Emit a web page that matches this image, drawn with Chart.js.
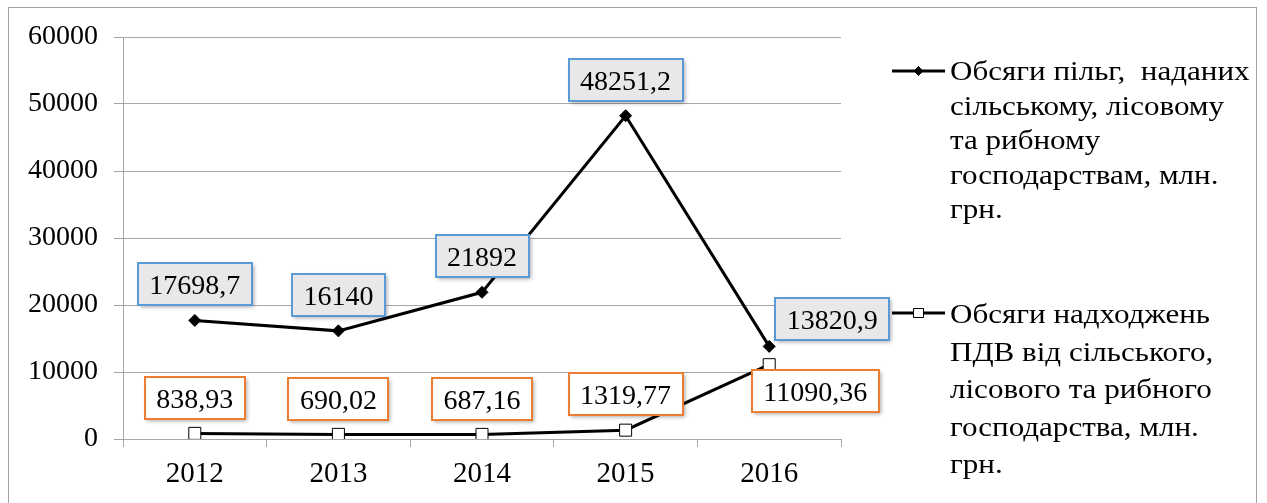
<!DOCTYPE html>
<html><head><meta charset="utf-8">
<script src="https://cdn.jsdelivr.net/npm/chart.js@4/dist/chart.umd.min.js"></script>
<style>
html,body{margin:0;padding:0;background:#fff;}
#wrap{position:relative;width:1267px;height:503px;overflow:hidden;}
#frame{position:absolute;left:8px;top:7px;width:1249px;height:520px;border:1px solid #a0a0a0;box-sizing:border-box;}
canvas{position:absolute;left:0;top:0;}
</style></head><body>
<div id="wrap"><div id="frame"></div><canvas id="c" width="1267" height="503"></canvas></div>
<script>
const years = ['2012', '2013', '2014', '2015', '2016'];
const benefits = [17698.7, 16140, 21892, 48251.2, 13820.9];
const vatRevenue = [838.93, 690.02, 687.16, 1319.77, 11090.36];
const yTickValues = [0, 10000, 20000, 30000, 40000, 50000, 60000];
const legendBenefits = ['Обсяги пільг,  наданих', 'сільському, лісовому', 'та рибному', 'господарствам, млн.', 'грн.'];
const legendVat = ['Обсяги надходжень', 'ПДВ від сільського,', 'лісового та рибного', 'господарства, млн.', 'грн.'];

const SERIF = '"Liberation Serif", "Times New Roman", serif';
const fmt = v => String(v).replace('.', ',');

const labelPlugin = {
  id: 'boxLabels',
  afterDatasetsDraw(chart) {
    const ctx = chart.ctx;
    const styles = [
      {fill: '#e8e8e8', stroke: '#5b9bd5', offsets: [[0,-36],[0,-36],[0,-36],[0,-36],[63,-27]]},
      {fill: '#ffffff', stroke: '#ed7d31', offsets: [[0,-35],[0,-35],[0,-35],[0,-36],[46,26]]}
    ];
    ctx.save();
    ctx.font = '28px ' + SERIF;
    chart.data.datasets.forEach((ds, i) => {
      const meta = chart.getDatasetMeta(i);
      const st = styles[i];
      meta.data.forEach((el, j) => {
        const txt = fmt(ds.data[j]);
        const cx = el.x + st.offsets[j][0];
        const cy = el.y + st.offsets[j][1];
        const w = ctx.measureText(txt).width + 23;
        const h = 42;
        const x0 = Math.round(cx - w / 2), y0 = Math.round(cy - h / 2);
        ctx.save();
        ctx.shadowColor = 'rgba(0,0,0,0.35)';
        ctx.shadowBlur = 4;
        ctx.shadowOffsetX = 2;
        ctx.shadowOffsetY = 2;
        ctx.fillStyle = st.fill;
        ctx.fillRect(x0, y0, w, h);
        ctx.restore();
        ctx.lineWidth = 2;
        ctx.strokeStyle = st.stroke;
        ctx.strokeRect(x0, y0, w, h);
        ctx.fillStyle = '#000';
        ctx.textAlign = 'center';
        ctx.textBaseline = 'alphabetic';
        ctx.fillText(txt, cx, cy + 10);
      });
    });
    ctx.restore();
  }
};

const legendPlugin = {
  id: 'sideLegend',
  afterDraw(chart) {
    const ctx = chart.ctx;
    const blocks = [
      {lines: legendBenefits, markerY: 71, base: 80, step: 34.5, ds: 0},
      {lines: legendVat, markerY: 313, base: 323, step: 37.5, ds: 1}
    ];
    ctx.save();
    blocks.forEach(b => {
      const ds = chart.data.datasets[b.ds];
      ctx.strokeStyle = '#000';
      ctx.lineWidth = 3;
      ctx.beginPath();
      ctx.moveTo(892, b.markerY);
      ctx.lineTo(945, b.markerY);
      ctx.stroke();
      ctx.fillStyle = ds.pointBackgroundColor;
      ctx.strokeStyle = ds.pointBorderColor;
      ctx.lineWidth = 1;
      ctx.beginPath();
      if (b.ds === 0) {
        ctx.moveTo(918.5, b.markerY - 4.5); ctx.lineTo(923, b.markerY);
        ctx.lineTo(918.5, b.markerY + 4.5); ctx.lineTo(914, b.markerY); ctx.closePath();
      } else {
        ctx.rect(913.5, b.markerY - 4.5, 10, 9);
      }
      ctx.fill(); ctx.stroke();
      ctx.fillStyle = '#000';
      ctx.font = '27px ' + SERIF;
      ctx.textAlign = 'left';
      ctx.textBaseline = 'alphabetic';
      b.lines.forEach((t, k) => {
        ctx.save();
        ctx.translate(950, b.base + k * b.step);
        ctx.scale(1.15, 1);
        ctx.fillText(t, 0, 0);
        ctx.restore();
      });
    });
    ctx.restore();
  }
};

new Chart(document.getElementById('c'), {
  type: 'line',
  data: {
    labels: years,
    datasets: [
      {
        label: legendBenefits.join(' '),
        data: benefits,
        borderColor: '#000',
        borderWidth: 3,
        pointStyle: 'rectRot',
        pointRadius: 6,
        pointBackgroundColor: '#000',
        pointBorderColor: '#000',
        pointBorderWidth: 1,
        tension: 0
      },
      {
        label: legendVat.join(' '),
        data: vatRevenue,
        borderColor: '#000',
        borderWidth: 3,
        pointStyle: 'rect',
        pointRadius: 8.5,
        pointBackgroundColor: '#fff',
        pointBorderColor: '#000',
        pointBorderWidth: 1,
        tension: 0
      }
    ]
  },
  options: {
    responsive: false,
    animation: false,
    layout: {padding: {left: 0, top: 37, right: 426, bottom: 0}},
    plugins: {legend: {display: false}, tooltip: {enabled: false}},
    scales: {
      x: {
        type: 'category',
        offset: true,
        grid: {offset: true, drawOnChartArea: false, drawTicks: true, tickLength: 8, color: '#a6a6a6'},
        border: {display: true, color: '#a6a6a6'},
        ticks: {font: {family: SERIF, size: 29}, color: '#000', padding: 10, maxRotation: 0},
        afterFit: s => { s.height = 64; }
      },
      y: {
        min: 0,
        max: 60000,
        afterBuildTicks: s => { s.ticks = yTickValues.map(v => ({value: v})); },
        ticks: {font: {family: SERIF, size: 28}, color: '#000', padding: 16, callback: v => String(v)},
        grid: {color: '#a6a6a6', tickLength: 9, drawTicks: true},
        border: {display: true, color: '#a6a6a6'},
        afterFit: s => { s.width = 123; }
      }
    }
  },
  plugins: [labelPlugin, legendPlugin]
});
</script>
</body></html>
